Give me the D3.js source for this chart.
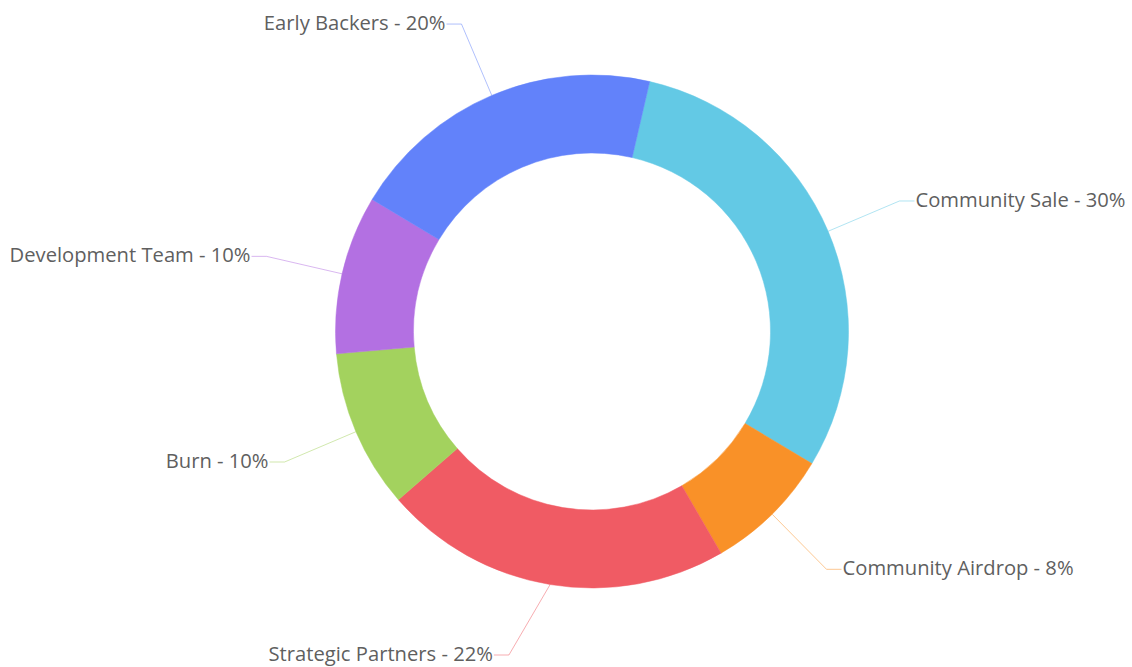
<!DOCTYPE html>
<html>
<head>
<meta charset="utf-8">
<script src="https://cdn.jsdelivr.net/npm/d3@7"></script>
<style>
  html, body { margin: 0; padding: 0; background: #fff; }
  svg { display: block; }
</style>
</head>
<body>
<svg id="chart" width="1132" height="667"></svg>
<script>
const categories = ["Community Sale", "Community Airdrop", "Strategic Partners", "Burn", "Development Team", "Early Backers"];
const values = [30, 8, 22, 10, 10, 20];
const colors = ["#63c9e5", "#f99128", "#f05b64", "#a3d25e", "#b370e2", "#6282fa"];

const W = 1132, H = 667;
const cx = 592, cy = 331.5;
const outerR = 256.5, innerR = 178.5;
const elbowR = 334, hLen = 15;
const startDeg = 13;
const edgePad = 12;

const svg = d3.select("#chart");
const g = svg.append("g").attr("transform", `translate(${cx},${cy})`);

const data = categories.map((c, i) => ({ name: c, value: values[i], color: colors[i] }));

const pie = d3.pie()
  .value(d => d.value)
  .sort(null)
  .startAngle(startDeg * Math.PI / 180)
  .endAngle(startDeg * Math.PI / 180 + 2 * Math.PI);

const arcs = pie(data);
const arc = d3.arc().innerRadius(innerR).outerRadius(outerR);

g.selectAll("path.slice")
  .data(arcs)
  .join("path")
  .attr("class", "slice")
  .attr("d", arc)
  .attr("fill", d => d.data.color)
  .attr("stroke", d => d.data.color)
  .attr("stroke-width", 0.5);

function mid(d) { return (d.startAngle + d.endAngle) / 2; }

// label layout: elbow on circle of radius elbowR, y clamped inside the canvas
arcs.forEach(d => {
  const a = mid(d);
  const right = Math.sin(a) > 0;
  let y = -Math.cos(a) * elbowR;
  const yMin = -cy + edgePad, yMax = H - cy - edgePad;
  const yc = Math.max(yMin, Math.min(yMax, y));
  let x = Math.sin(a) * elbowR;
  if (yc !== y) {
    x = (right ? 1 : -1) * Math.sqrt(Math.max(0, elbowR * elbowR - yc * yc));
  }
  d.p0 = [Math.sin(a) * outerR, -Math.cos(a) * outerR];
  d.p1 = [x, yc];
  d.p2 = [x + (right ? hLen : -hLen), yc];
  d.right = right;
});

g.selectAll("polyline.lead")
  .data(arcs)
  .join("polyline")
  .attr("class", "lead")
  .attr("fill", "none")
  .attr("stroke", d => d.data.color)
  .attr("stroke-opacity", 0.5)
  .attr("stroke-width", 1)
  .attr("points", d => [d.p0, d.p1, d.p2].map(p => p.join(",")).join(" "));

g.selectAll("text.lbl")
  .data(arcs)
  .join("text")
  .attr("class", "lbl")
  .attr("font-family", "'Open Sans', sans-serif")
  .attr("font-size", 20.2)
  .attr("fill", "#5f5f5f")
  .attr("dominant-baseline", "central")
  .attr("text-anchor", d => d.right ? "start" : "end")
  .attr("x", d => d.p2[0] + (d.right ? 1 : -1))
  .attr("y", d => d.p2[1] - 2)
  .text(d => `${d.data.name} - ${d.data.value}%`);
</script>
</body>
</html>
